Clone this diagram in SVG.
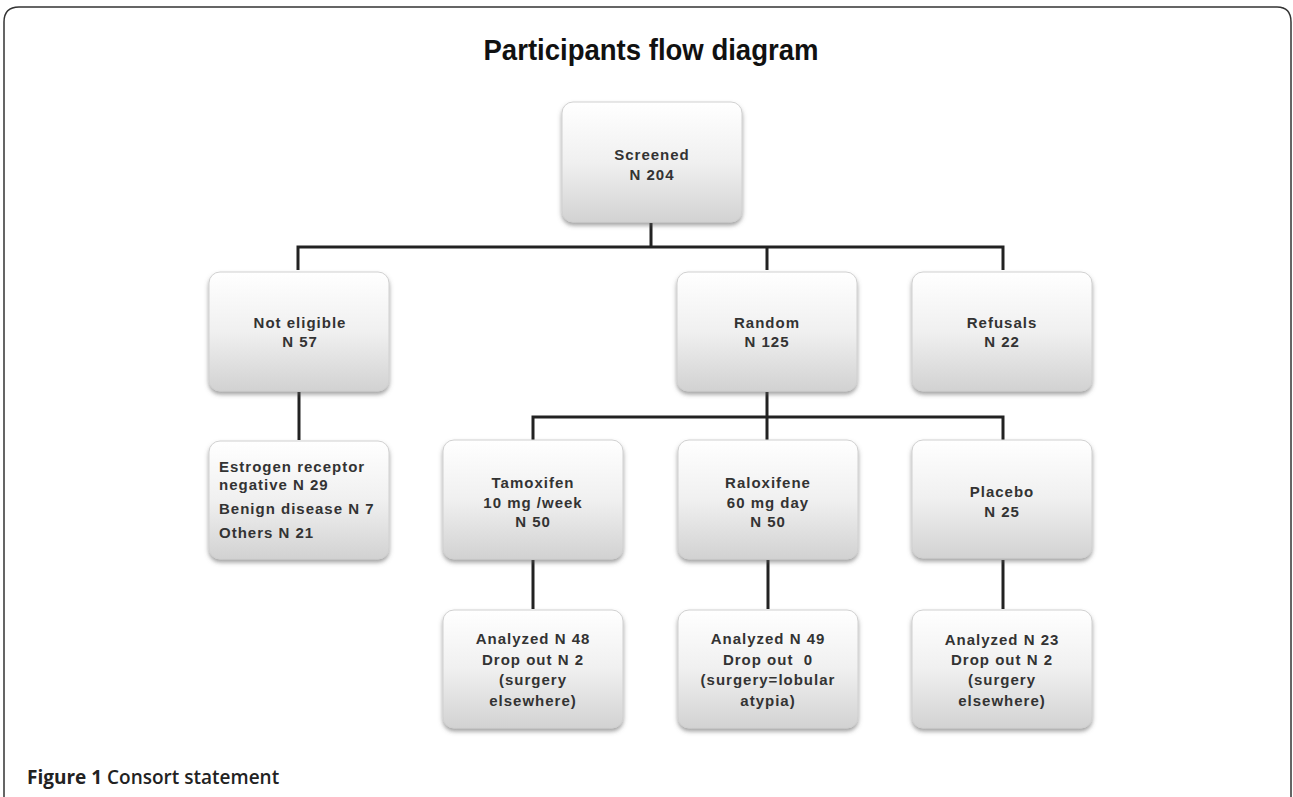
<svg xmlns="http://www.w3.org/2000/svg" width="1293" height="797" viewBox="0 0 1293 797">
<defs>
<linearGradient id="g" x1="0" y1="0" x2="0" y2="1">
<stop offset="0" stop-color="#ffffff"/>
<stop offset="0.5" stop-color="#f0f0f0"/>
<stop offset="1" stop-color="#d2d2d2"/>
</linearGradient>
<filter id="sh" x="-10%" y="-10%" width="120%" height="125%">
<feDropShadow dx="0" dy="3" stdDeviation="2" flood-color="#555" flood-opacity="0.55"/>
</filter>
<style>
.box{fill:url(#g);stroke:#d0d0d0;stroke-width:1;filter:url(#sh)}
.t{font-family:"Liberation Sans",Arial,sans-serif;font-weight:bold;font-size:15px;letter-spacing:1px;fill:#333;text-anchor:middle}
.l{text-anchor:start}
.c{stroke:#222;stroke-width:3;fill:none}
</style>
</defs>
<rect width="1293" height="797" fill="#fff"/>
<path d="M4,797 L4,22 Q4,7 19,7 L1277,7 Q1291,7 1291,22 L1291,797" fill="none" stroke="#333" stroke-width="1.5"/>
<text x="651" y="60" font-family="'Liberation Sans',Arial,sans-serif" font-weight="bold" font-size="30" fill="#111" text-anchor="middle" textLength="335" lengthAdjust="spacingAndGlyphs">Participants flow diagram</text>
<g id="connectors">
<path class="c" d="M651,223 V247 M298,270 V247 H1003 V270 M767,247 V270"/>
<path class="c" d="M299,392 V440"/>
<path class="c" d="M767,392 V417 M533,440 V417 H1003 V440 M767,417 V440"/>
<path class="c" d="M533,560 V609 M768,560 V609 M1003,560 V609"/>
</g>
<g id="screened"><rect class="box" x="562" y="102" width="180" height="120" rx="11"/>
<text class="t" x="652" y="160">Screened</text><text class="t" x="652" y="180">N 204</text></g>
<g id="not-eligible"><rect class="box" x="209" y="272" width="180" height="119" rx="11"/>
<text class="t" x="300" y="328">Not eligible</text><text class="t" x="300" y="347">N 57</text></g>
<g id="random"><rect class="box" x="677" y="272" width="180" height="119" rx="11"/>
<text class="t" x="767" y="328">Random</text><text class="t" x="767" y="347">N 125</text></g>
<g id="refusals"><rect class="box" x="912" y="272" width="180" height="119" rx="11"/>
<text class="t" x="1002" y="328">Refusals</text><text class="t" x="1002" y="347">N 22</text></g>
<g id="exclusions"><rect class="box" x="209" y="441" width="180" height="118" rx="11"/>
<text class="t l" x="219" y="472">Estrogen receptor</text><text class="t l" x="219" y="490">negative N 29</text>
<text class="t l" x="219" y="514">Benign disease N 7</text><text class="t l" x="219" y="538">Others N 21</text></g>
<g id="tamoxifen"><rect class="box" x="443" y="440" width="180" height="119" rx="11"/>
<text class="t" x="533" y="488">Tamoxifen</text><text class="t" x="533" y="508">10 mg /week</text><text class="t" x="533" y="527">N 50</text></g>
<g id="raloxifene"><rect class="box" x="678" y="440" width="180" height="119" rx="11"/>
<text class="t" x="768" y="488">Raloxifene</text><text class="t" x="768" y="508">60 mg day</text><text class="t" x="768" y="527">N 50</text></g>
<g id="placebo"><rect class="box" x="912" y="440" width="180" height="118" rx="11"/>
<text class="t" x="1002" y="497">Placebo</text><text class="t" x="1002" y="517">N 25</text></g>
<g id="analyzed-tam"><rect class="box" x="443" y="610" width="180" height="118" rx="11"/>
<text class="t" x="533" y="644">Analyzed N 48</text><text class="t" x="533" y="665">Drop out N 2</text><text class="t" x="533" y="685">(surgery</text><text class="t" x="533" y="706">elsewhere)</text></g>
<g id="analyzed-ral"><rect class="box" x="678" y="610" width="180" height="118" rx="11"/>
<text class="t" x="768" y="644">Analyzed N 49</text><text class="t" x="768" y="665" xml:space="preserve">Drop out  0</text><text class="t" x="768" y="685">(surgery=lobular</text><text class="t" x="768" y="706">atypia)</text></g>
<g id="analyzed-pla"><rect class="box" x="912" y="610" width="180" height="118" rx="11"/>
<text class="t" x="1002" y="645">Analyzed N 23</text><text class="t" x="1002" y="665">Drop out N 2</text><text class="t" x="1002" y="685">(surgery</text><text class="t" x="1002" y="706">elsewhere)</text></g>
<text x="27" y="784" font-family="'Open Sans','Liberation Sans',sans-serif" font-size="19" fill="#222" font-weight="bold">Figure 1 <tspan font-weight="600">Consort statement</tspan></text>
</svg>
